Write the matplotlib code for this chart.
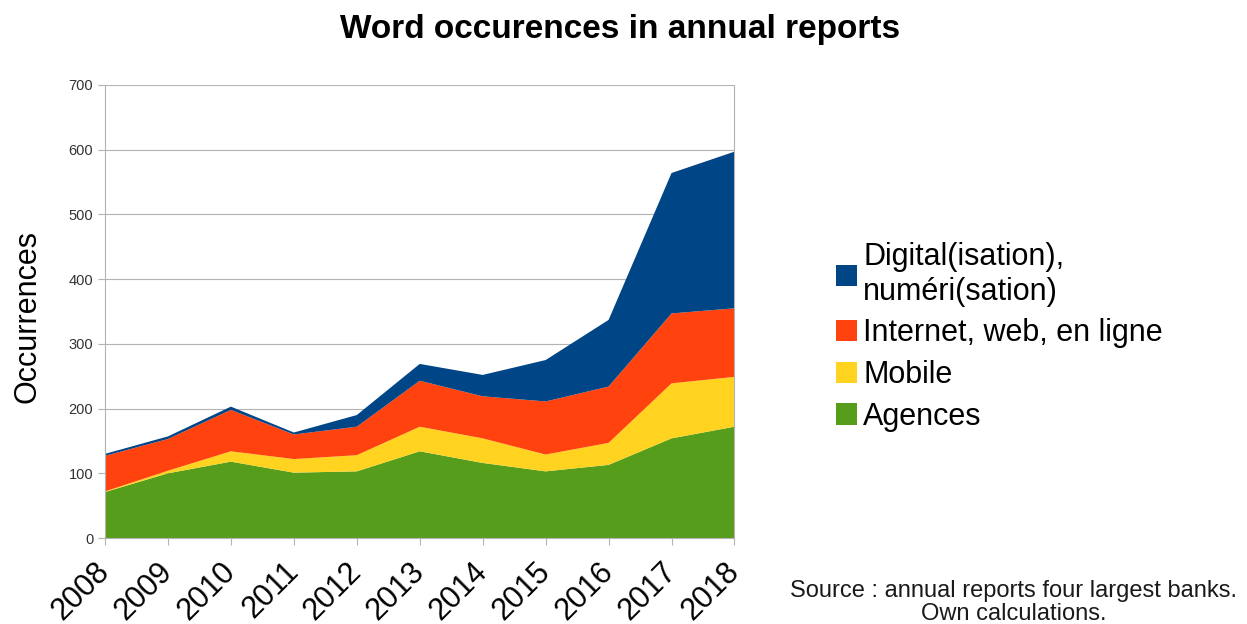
import matplotlib.pyplot as plt

# data
years = [2008, 2009, 2010, 2011, 2012, 2013, 2014, 2015, 2016, 2017, 2018]
agences = [71, 100, 118, 101, 103, 134, 116, 103, 113, 154, 172]
mobile = [1, 4, 16, 21, 25, 38, 38, 26, 34, 85, 77]
internet = [55, 49, 64, 38, 44, 71, 65, 82, 87, 108, 106]
digital = [3, 4, 5, 3, 18, 26, 33, 64, 103, 217, 242]

labels = ["Agences", "Mobile", "Internet, web, en ligne",
          "Digital(isation),\nnuméri(sation)"]
colors = ["#579d1c", "#ffd320", "#ff420e", "#004586"]

plt.rcParams['font.family'] = ['Liberation Sans', 'DejaVu Sans']

fig = plt.figure(figsize=(12.47, 6.24), dpi=100)
ax = fig.add_axes([0.0842, 0.1378, 0.5048, 0.726])

ax.stackplot(years, agences, mobile, internet, digital,
             colors=colors, labels=labels, linewidth=0)

ax.set_xlim(years[0], years[-1])
ax.set_ylim(0, 700)
ax.set_yticks(range(0, 701, 100))
ax.set_xticks(years)
ax.set_xticklabels([str(y) for y in years], rotation=45, ha='right',
                   va='center', rotation_mode='anchor', fontsize=22)
ax.tick_params(axis='x', length=5, color='#b3b3b3', pad=16)
ax.tick_params(axis='y', length=5, color='#b3b3b3', labelsize=10.5,
               labelcolor='#333333')
ax.grid(axis='y', color='#b3b3b3', linewidth=0.8)
ax.set_axisbelow(True)
for s in ax.spines.values():
    s.set_color('#b3b3b3')
    s.set_linewidth(0.8)
ax.spines['top'].set_visible(False)

ax.set_ylabel("Occurrences", fontsize=22)
ax.yaxis.set_label_coords(-0.1, 0.49)

fig.text(0.497, 0.952, "Word occurences in annual reports",
         ha='center', va='center', fontsize=24, fontweight='bold')

handles, labs = ax.get_legend_handles_labels()
leg = fig.legend(handles[::-1], labs[::-1], loc='center left',
                 bbox_to_anchor=(0.648, 0.46), frameon=False, fontsize=22,
                 handlelength=0.7, handleheight=0.7, handletextpad=0.2,
                 labelspacing=0.38)

fig.text(0.813, 0.035, "Source : annual reports four largest banks.\nOwn calculations.",
         ha='center', va='center', fontsize=17, linespacing=1.05,
         color='#1a1a1a')

plt.savefig("out.png", dpi=100)
